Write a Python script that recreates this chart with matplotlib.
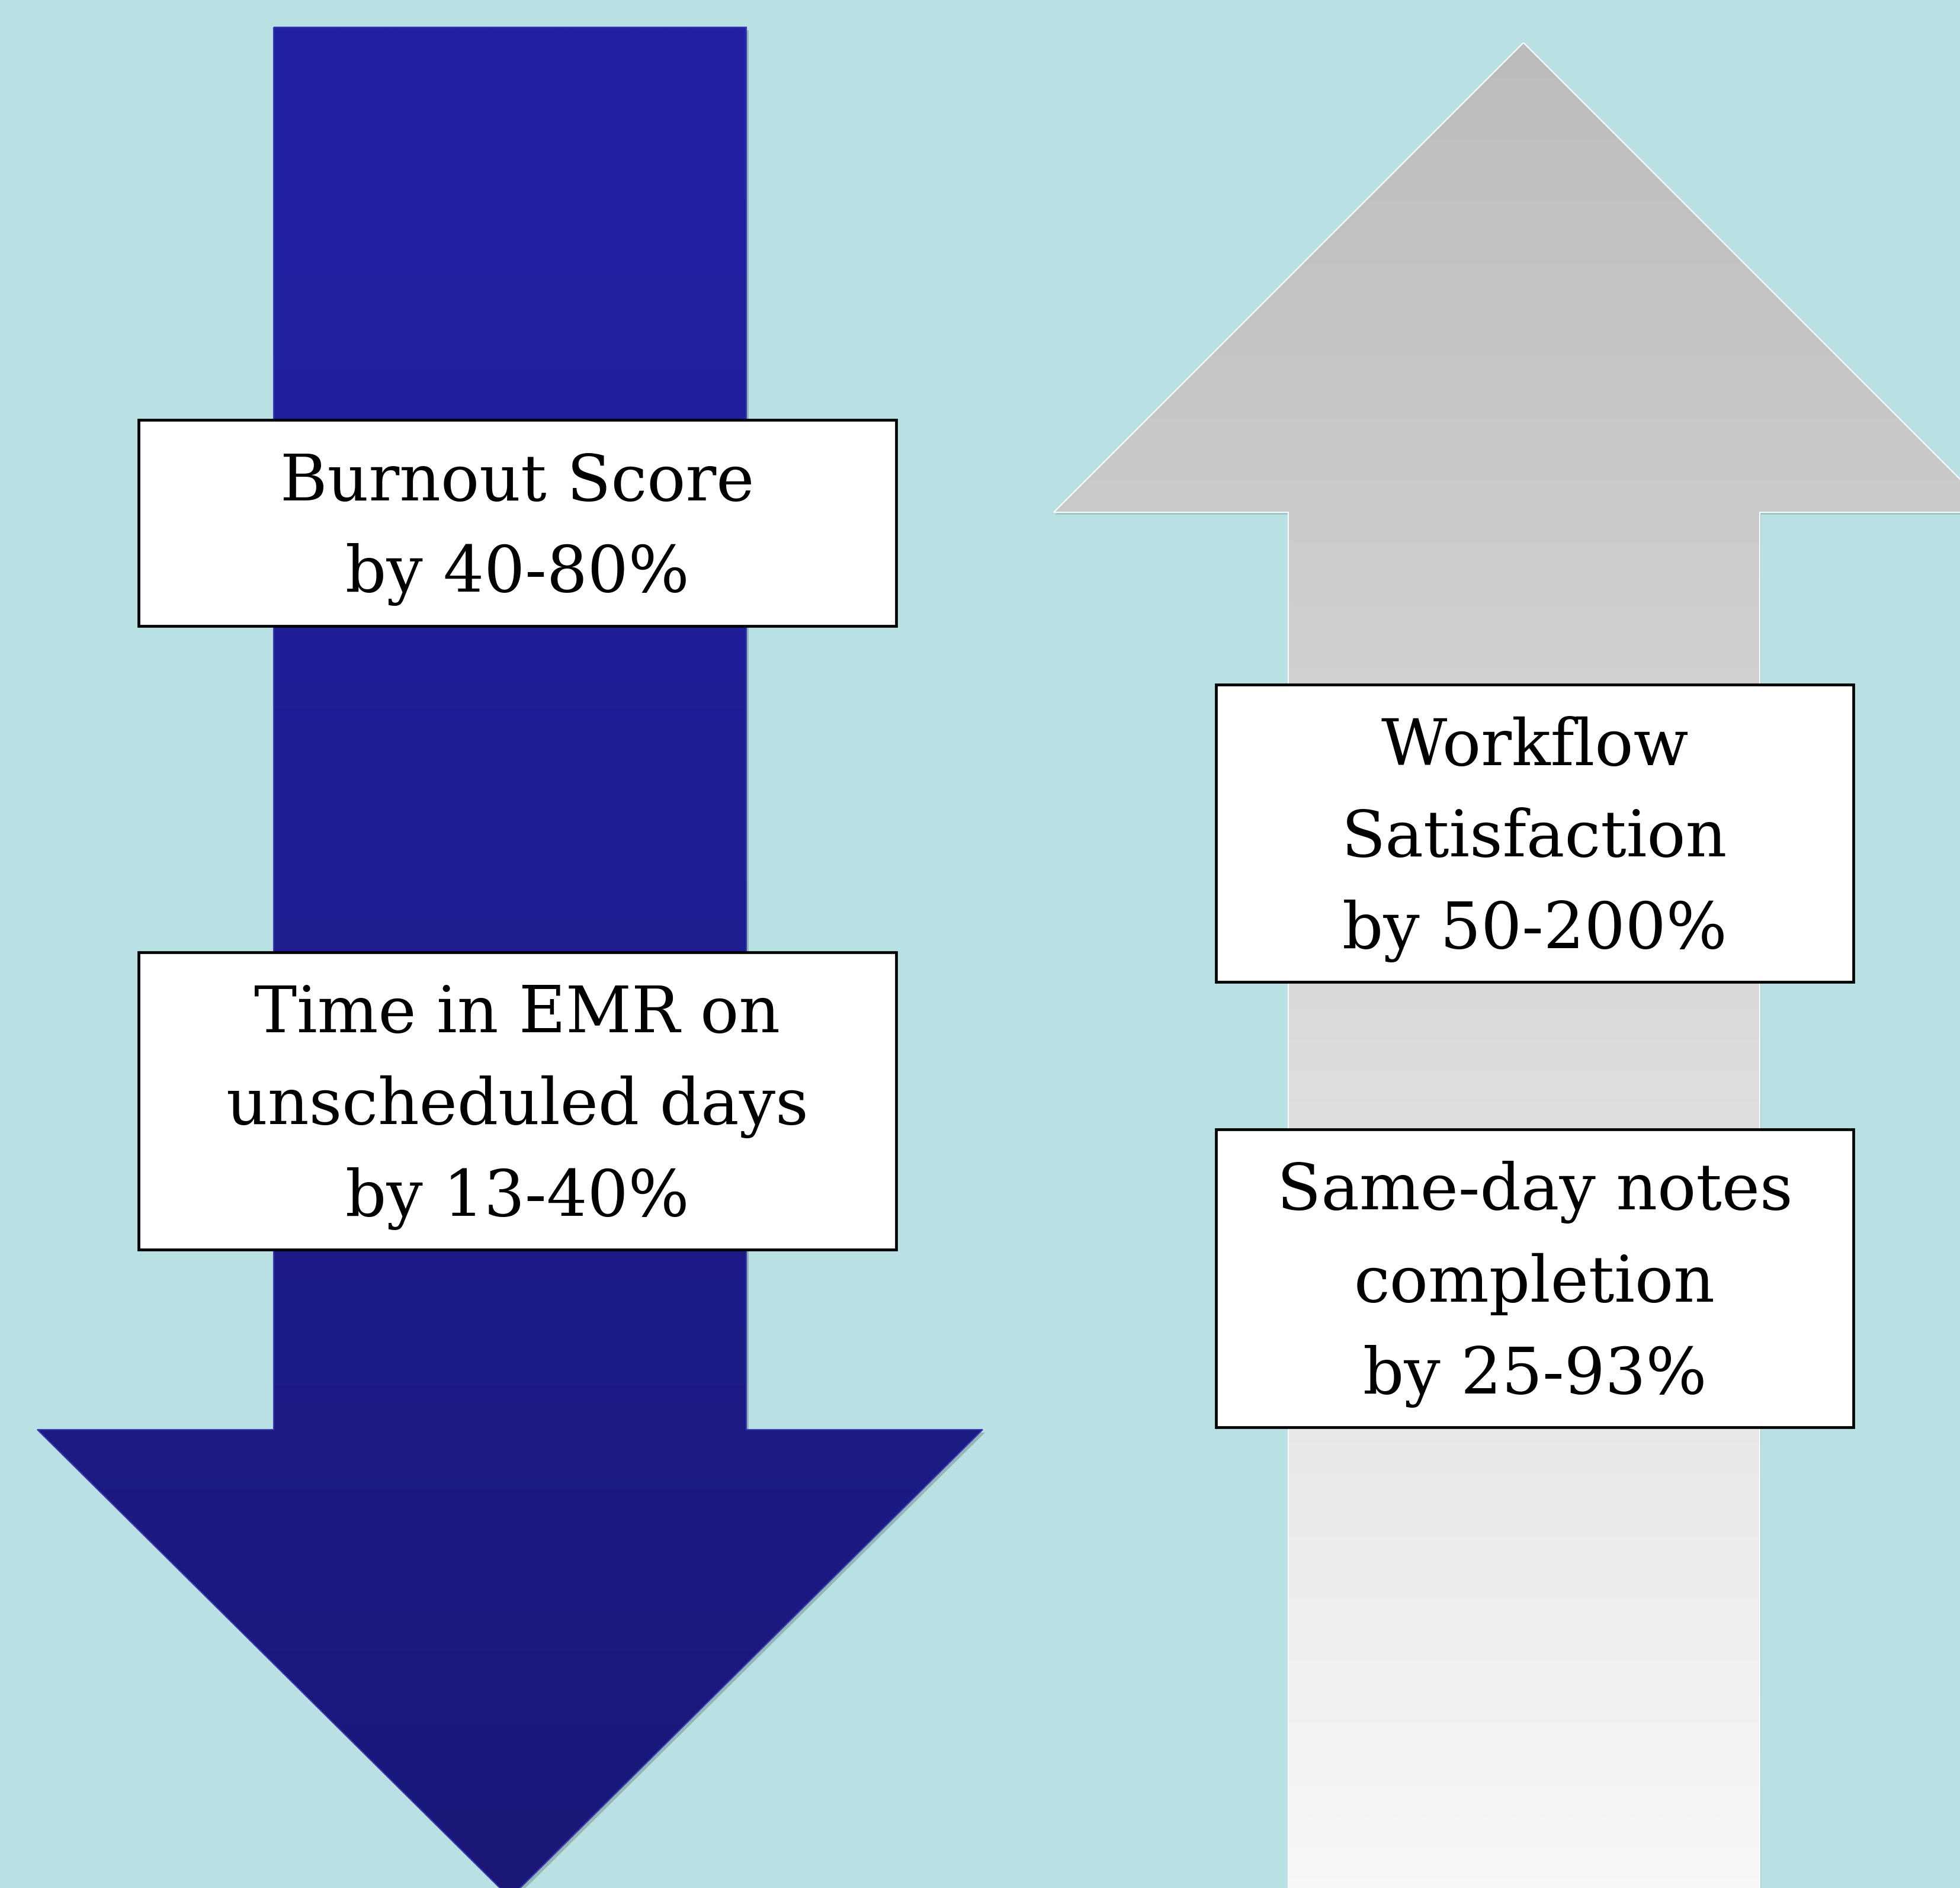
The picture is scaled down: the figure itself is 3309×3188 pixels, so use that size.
import numpy as np
import matplotlib.pyplot as plt
from matplotlib.patches import Polygon, Rectangle

# labels for the four boxes
down_labels = ["Burnout Score\nby 40-80%", "Time in EMR on\nunscheduled days\nby 13-40%"]
up_labels = ["Workflow\nSatisfaction\nby 50-200%", "Same-day notes\ncompletion\nby 25-93%"]

W, H = 3309, 3188
BG = "#B9E0E3"

fig = plt.figure(figsize=(W / 100, H / 100), dpi=100)
fig.patch.set_facecolor(BG)
ax = fig.add_axes([0, 0, 1, 1])
ax.set_xlim(0, W)
ax.set_ylim(H, 0)
ax.axis("off")
ax.set_facecolor(BG)


def gradient_arrow(pts, top_col, bot_col, edge, z):
    pts = np.array(pts, dtype=float)
    x0, x1 = pts[:, 0].min(), pts[:, 0].max()
    y0, y1 = pts[:, 1].min(), pts[:, 1].max()
    c0 = np.array(plt.matplotlib.colors.to_rgb(top_col))
    c1 = np.array(plt.matplotlib.colors.to_rgb(bot_col))
    t = np.linspace(0, 1, 256)[:, None]
    img = (c0 * (1 - t) + c1 * t)[:, None, :]
    poly = Polygon(pts, closed=True, facecolor="none", edgecolor=edge, lw=1.5, zorder=z + 1)
    ax.add_patch(poly)
    im = ax.imshow(img, extent=[x0, x1, y1, y0], aspect="auto", zorder=z, interpolation="bilinear")
    im.set_clip_path(poly)


# down arrow with a faint shadow
down_pts = [(462, 46), (1260, 46), (1260, 2414), (1659, 2414), (861, 3205),
            (63, 2414), (462, 2414)]
shadow = Polygon(np.array(down_pts) + [4, 5], closed=True, facecolor="#7a9a9c",
                 edgecolor="none", alpha=0.6, zorder=1)
ax.add_patch(shadow)
gradient_arrow(down_pts, "#2322A6", "#1A1778", "#3a3ab0", 2)

# up arrow, head runs off the right edge
up_pts = [(2572, 72), (3365, 865), (2971, 865), (2971, 3230), (2175, 3230),
          (2175, 865), (1779, 865)]
shadow2 = Polygon(np.array(up_pts) + [2, 4], closed=True, facecolor="#8fb3b6",
                  edgecolor="none", alpha=0.6, zorder=1)
ax.add_patch(shadow2)
gradient_arrow(up_pts, "#BCBCBC", "#F8F8F8", "white", 2)

# text boxes: (left, top, right, bottom)
down_boxes = [(234, 709, 1513, 1057), (234, 1608, 1513, 2110)]
up_boxes = [(2053, 1156, 3129, 1658), (2053, 1907, 3129, 2410)]

for labels, boxes in [(down_labels, down_boxes), (up_labels, up_boxes)]:
    for lab, (l, t, r, b) in zip(labels, boxes):
        ax.add_patch(Rectangle((l, t), r - l, b - t, facecolor="white",
                               edgecolor="black", lw=3.4, zorder=5))
        ax.text((l + r) / 2, (t + b) / 2 + 10, lab, ha="center", va="center",
                fontsize=78, family="DejaVu Serif", linespacing=1.6,
                color="black", zorder=6)

fig.savefig("out.png", dpi=100, facecolor=BG)
